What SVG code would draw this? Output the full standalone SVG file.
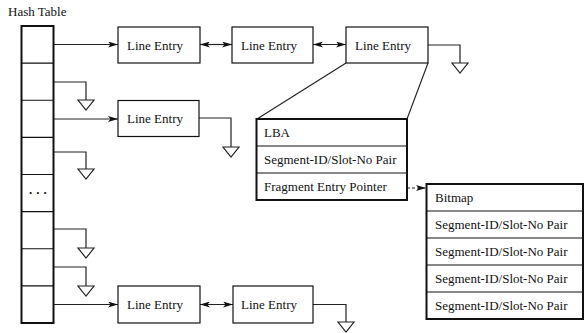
<svg xmlns="http://www.w3.org/2000/svg" width="586" height="333" viewBox="0 0 586 333">
  <style>
    text { font-family: "Liberation Serif", "Times New Roman", serif; font-size: 13px; fill: #111; }
    .box { fill: #fff; stroke: #111; stroke-width: 1.2; }
    .thick { fill: #fff; stroke: #111; stroke-width: 2; }
    .sep { stroke: #111; stroke-width: 1.2; fill: none; }
    .wire { stroke: #222; stroke-width: 1.2; fill: none; }
    .ptr { stroke: #222; stroke-width: 1.2; fill: none; marker-end: url(#head); }
    .dbl { stroke: #222; stroke-width: 1.2; fill: none; marker-start: url(#tail); marker-end: url(#head); }
    .ground { fill: #fff; stroke: #222; stroke-width: 1.2; }
  </style>
  <defs>
    <marker id="head" viewBox="0 0 10 6" refX="10" refY="3" markerWidth="10" markerHeight="6" markerUnits="userSpaceOnUse" orient="auto">
      <path d="M0,0 L10,3 L0,6 L2.5,3 Z" fill="#111"/>
    </marker>
    <marker id="tail" viewBox="0 0 10 6" refX="0" refY="3" markerWidth="10" markerHeight="6" markerUnits="userSpaceOnUse" orient="auto">
      <path d="M10,0 L0,3 L10,6 L7.5,3 Z" fill="#111"/>
    </marker>
    <path id="gnd" d="M-8,0 L8,0 L0,10 Z"/>
  </defs>

  <!-- connectors -->
  <g id="connectors">
    <!-- bucket pointers -->
    <line class="ptr" x1="53" y1="44.5" x2="118" y2="44.5"/>
    <line class="ptr" x1="53" y1="119" x2="118" y2="119"/>
    <line class="ptr" x1="53" y1="304.5" x2="118" y2="304.5"/>
    <!-- chain links -->
    <line class="dbl" x1="200" y1="44.5" x2="232" y2="44.5"/>
    <line class="dbl" x1="313" y1="44.5" x2="346" y2="44.5"/>
    <line class="dbl" x1="200" y1="304.5" x2="233" y2="304.5"/>
    <!-- null pointers -->
    <polyline class="wire" points="53,82 86,82 86,100"/>
    <use href="#gnd" class="ground" x="86" y="100"/>
    <polyline class="wire" points="53,152 86,152 86,169"/>
    <use href="#gnd" class="ground" x="86" y="169"/>
    <polyline class="wire" points="53,229 86,229 86,248"/>
    <use href="#gnd" class="ground" x="86" y="248"/>
    <polyline class="wire" points="53,267 86,267 86,286"/>
    <use href="#gnd" class="ground" x="86" y="286"/>
    <polyline class="wire" points="199,118 231,118 231,147"/>
    <use href="#gnd" class="ground" x="231" y="147"/>
    <polyline class="wire" points="428,45 460,45 460,63"/>
    <use href="#gnd" class="ground" x="460" y="63"/>
    <polyline class="wire" points="313,304.5 346,304.5 346,322"/>
    <use href="#gnd" class="ground" x="346" y="322"/>
    <!-- expansion of the line entry -->
    <line class="wire" x1="346" y1="63" x2="257" y2="119"/>
    <line class="wire" x1="428" y1="63" x2="407" y2="119"/>
    <!-- fragment entry pointer -->
    <line class="ptr" x1="407" y1="188" x2="426" y2="188" stroke-dasharray="3,2"/>
  </g>

  <!-- hash table -->
  <g id="hash-table">
    <text x="8" y="16">Hash Table</text>
    <rect class="thick" x="21.5" y="26" width="32" height="297"/>
    <path class="sep" d="M21.5,63.1 H53.5 M21.5,100.25 H53.5 M21.5,137.4 H53.5 M21.5,174.5 H53.5 M21.5,211.6 H53.5 M21.5,248.75 H53.5 M21.5,285.9 H53.5"/>
    <text x="29" y="194" font-size="15" font-weight="bold" letter-spacing="4">...</text>
  </g>

  <!-- line entries, row 1 -->
  <g id="entry-1a">
    <rect class="box" x="118" y="27" width="82" height="36"/>
    <text x="127" y="49.5">Line Entry</text>
  </g>
  <g id="entry-1b">
    <rect class="box" x="232" y="27" width="81" height="36"/>
    <text x="241" y="49.5">Line Entry</text>
  </g>
  <g id="entry-1c">
    <rect class="box" x="346" y="27" width="82" height="36"/>
    <text x="355" y="49.5">Line Entry</text>
  </g>

  <!-- line entry, row 3 -->
  <g id="entry-3a">
    <rect class="box" x="118" y="100.5" width="81" height="36"/>
    <text x="127" y="123">Line Entry</text>
  </g>

  <!-- line entries, row 8 -->
  <g id="entry-8a">
    <rect class="box" x="118" y="286" width="82" height="37"/>
    <text x="127" y="309">Line Entry</text>
  </g>
  <g id="entry-8b">
    <rect class="box" x="233" y="286" width="80" height="37"/>
    <text x="241" y="309">Line Entry</text>
  </g>

  <!-- line entry detail -->
  <g id="entry-detail">
    <rect class="thick" x="256.5" y="119" width="150.5" height="81"/>
    <path class="sep" d="M256.5,146 H407 M256.5,173 H407"/>
    <text x="264" y="137">LBA</text>
    <text x="264" y="164">Segment-ID/Slot-No Pair</text>
    <text x="264" y="191">Fragment Entry Pointer</text>
  </g>

  <!-- fragment entry -->
  <g id="fragment-entry">
    <rect class="thick" x="426.5" y="184" width="156.5" height="135"/>
    <path class="sep" d="M426.5,211 H583 M426.5,238 H583 M426.5,265 H583 M426.5,292 H583"/>
    <text x="435" y="202">Bitmap</text>
    <text x="435" y="229">Segment-ID/Slot-No Pair</text>
    <text x="435" y="256">Segment-ID/Slot-No Pair</text>
    <text x="435" y="283">Segment-ID/Slot-No Pair</text>
    <text x="435" y="310">Segment-ID/Slot-No Pair</text>
  </g>
</svg>
